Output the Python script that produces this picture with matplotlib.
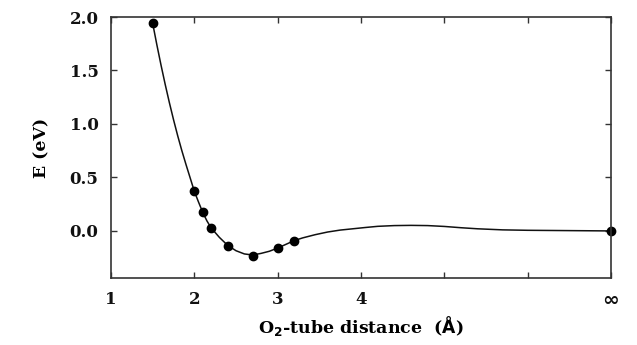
import matplotlib
matplotlib.use("Agg")
import matplotlib.pyplot as plt

# computed points (x in Angstrom, x = 7 stands for infinity)
pt_x = [1.50, 2.00, 2.10, 2.20, 2.40, 2.70, 3.00, 3.20, 7.00]
pt_e = [1.94, 0.37, 0.175, 0.03, -0.14, -0.23, -0.16, -0.09, 0.0]

# fitted curve
fit_x = [1.50, 1.55, 1.60, 1.65, 1.70, 1.75, 1.80, 1.85, 1.90, 1.95, 2.00,
         2.05, 2.10, 2.15, 2.20, 2.30, 2.40, 2.50, 2.60, 2.70, 2.80, 2.90,
         3.00, 3.10, 3.20, 3.30, 3.45, 3.60, 3.75, 3.90, 4.05, 4.20, 4.40,
         4.60, 4.80, 5.00, 5.20, 5.40, 5.70, 6.00, 6.50, 7.00]
fit_e = [1.94, 1.74, 1.55, 1.37, 1.20, 1.04, 0.89, 0.75, 0.62, 0.495, 0.37,
         0.27, 0.175, 0.095, 0.03, -0.06, -0.135, -0.185, -0.215, -0.225, -0.21, -0.19,
         -0.16, -0.125, -0.09, -0.065, -0.035, -0.01, 0.008, 0.02, 0.032, 0.043, 0.05,
         0.052, 0.05, 0.042, 0.03, 0.02, 0.01, 0.006, 0.003, 0.0]

xticks = [1, 2, 3, 4, 5, 6, 7]
xlabels = ['1', '2', '3', '4', '', '', '\u221e']
yticks = [0.0, 0.5, 1.0, 1.5, 2.0]

plt.rcParams['font.family'] = 'DejaVu Serif'
plt.rcParams['font.weight'] = 'bold'

fig = plt.figure(figsize=(6.37, 3.45), dpi=100)
ax = fig.add_axes([0.1743, 0.1942, 0.7849, 0.7565])

ax.plot(fit_x, fit_e, color='#111111', lw=1.1)
ax.plot(pt_x, pt_e, 'o', color='black', ms=6, clip_on=False)

ax.set_xlim(1, 7)
ax.set_ylim(-0.44, 2.0)
ax.set_xticks(xticks)
ax.set_xticklabels(xlabels)
ax.set_yticks(yticks)
ax.set_yticklabels(['%.1f' % v for v in yticks])

ax.tick_params(direction='in', length=4, width=1, top=True, right=True,
               labelsize=12, pad=9, colors='#333333', labelcolor='#111111')
for s in ax.spines.values():
    s.set_linewidth(1.2)
    s.set_color('#333333')

# the infinity label is drawn larger and heavier in the original
inf_lab = ax.get_xticklabels()[-1]
inf_lab.set_fontsize(14.5)
inf_lab.set_family('DejaVu Sans')

ax.set_ylabel('E (eV)', fontsize=12.5, fontweight='bold', labelpad=14)
ax.set_xlabel(r'O$_\mathbf{2}$-tube distance  ($\mathbf{\AA}$)', fontsize=12.5,
              fontweight='bold', labelpad=3)

fig.savefig('out.png', dpi=100)
